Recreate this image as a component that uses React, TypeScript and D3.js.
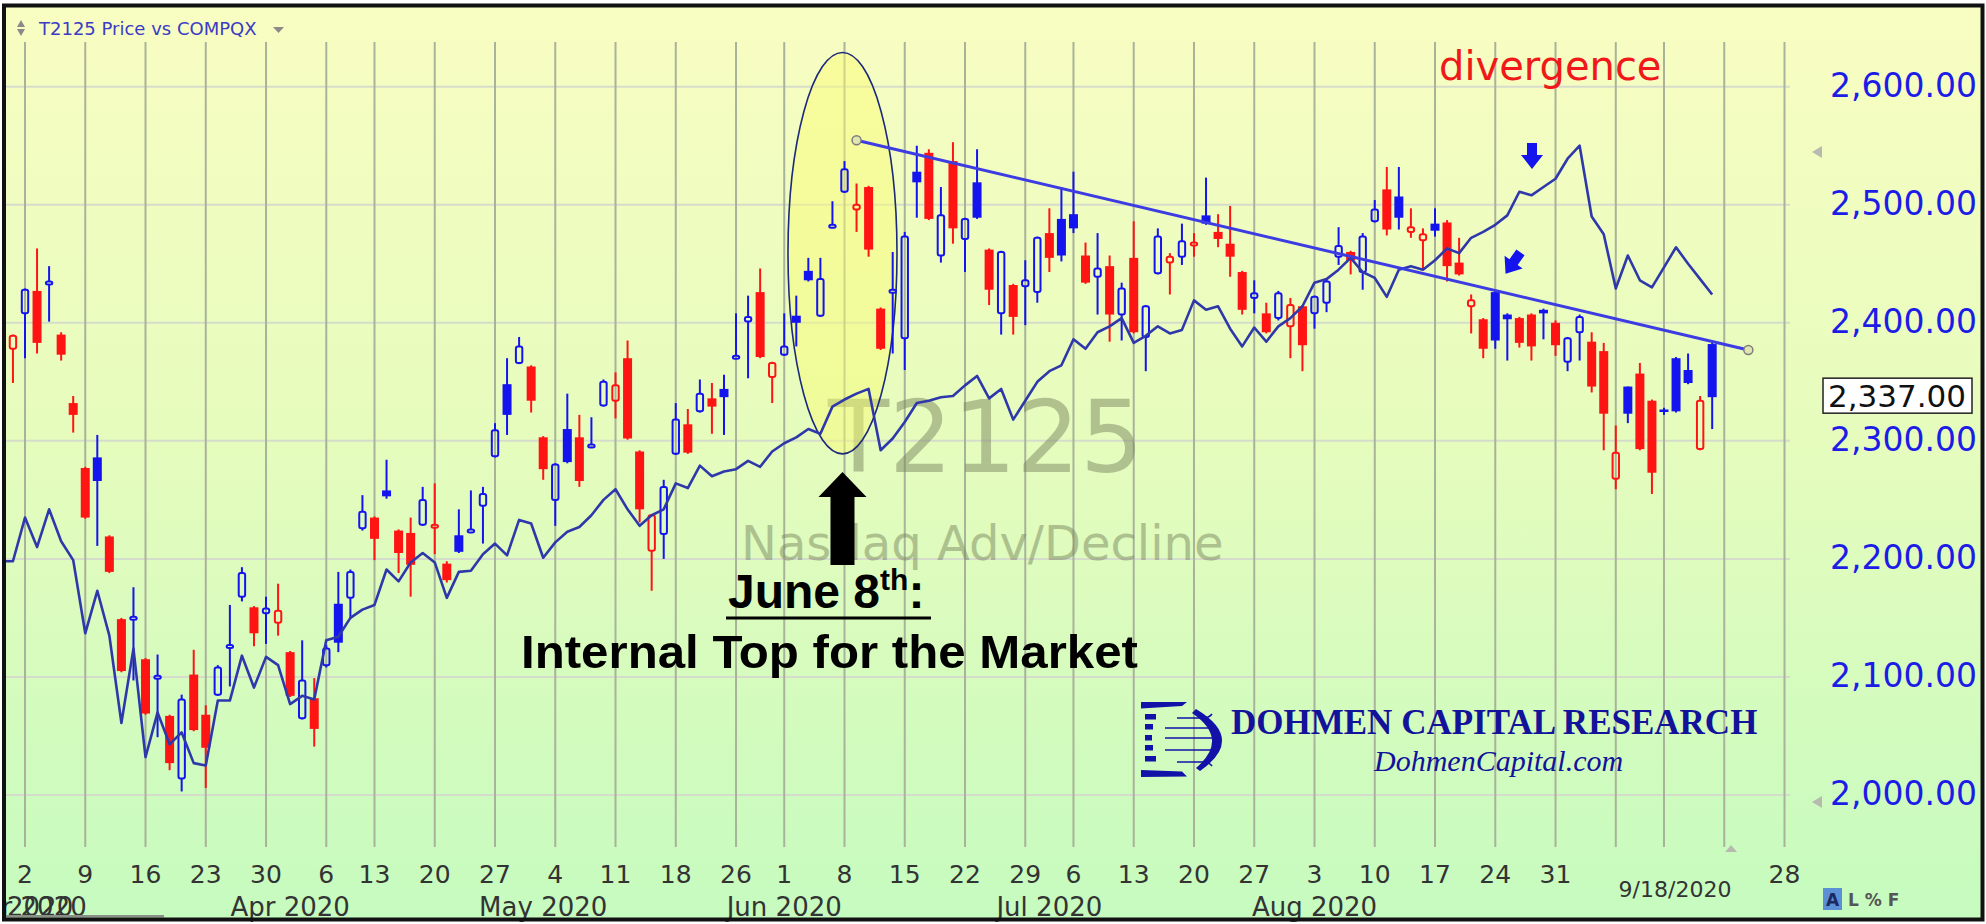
import React, { useEffect } from 'react';
import * as d3 from 'd3';

const W = 1986;
const H = 924;

// ---- calendar ----
const HOLIDAYS = ['2020-04-10', '2020-05-25', '2020-07-03', '2020-09-07'];
const CAL_START = '2020-02-27';
const CAL_END = '2020-09-30';
const CANDLE_START = '2020-02-28';
const AD_START = '2020-02-27';
const FIRST_TICK = '2020-03-02';
const LAST_TICK = '2020-09-28';
const hiddenWeekLabels = ['2020-09-08', '2020-09-14', '2020-09-21'];
const hiddenMonthLabels = ['2020-09'];

// ---- T2125 (Nasdaq Composite) daily candles, Feb 28 .. Sep 18 2020 ----
const opens = [
  2378, 2408, 2427, 2434, 2390, 2332, 2277, 2286, 2219, 2149, 2150, 2115, 2100, 2067, 2014, 2102, 2068, 2085, 2126, 2168,
  2159, 2154, 2146, 2121, 2065, 2082, 2110, 2162, 2167, 2226, 2235, 2258, 2224, 2222, 2229, 2228, 2196, 2220, 2224, 2245,
  2287, 2348, 2366, 2363, 2303, 2250, 2310, 2303, 2296, 2330, 2334, 2370, 2291, 2207, 2221, 2289, 2314, 2325, 2336, 2344,
  2371, 2401, 2426, 2354, 2373, 2406, 2444, 2406, 2482, 2511, 2496, 2515, 2412, 2427, 2387, 2528, 2544, 2457, 2537, 2471,
  2519, 2462, 2408, 2432, 2431, 2426, 2476, 2488, 2492, 2457, 2439, 2448, 2407, 2455, 2388, 2442, 2451, 2456, 2467, 2491,
  2477, 2467, 2443, 2421, 2408, 2404, 2397, 2414, 2408, 2417, 2456, 2460, 2443, 2486, 2513, 2507, 2477, 2470, 2484, 2485,
  2451, 2414, 2403, 2426, 2407, 2404, 2407, 2411, 2400, 2367, 2392, 2384, 2376, 2268, 2346, 2357, 2334, 2326, 2370, 2360,
  2293, 2382,
];
const highs = [
  2390, 2429, 2463, 2448, 2392, 2338, 2278, 2305, 2220, 2150, 2176, 2116, 2119, 2068, 2085, 2123, 2076, 2110, 2161, 2193,
  2160, 2168, 2179, 2122, 2131, 2099, 2127, 2189, 2191, 2254, 2236, 2284, 2225, 2235, 2261, 2264, 2198, 2242, 2258, 2261,
  2315, 2370, 2388, 2364, 2304, 2281, 2340, 2322, 2320, 2352, 2358, 2385, 2292, 2238, 2267, 2332, 2327, 2352, 2349, 2356,
  2408, 2423, 2446, 2367, 2408, 2423, 2455, 2455, 2503, 2537, 2518, 2516, 2413, 2460, 2477, 2550, 2547, 2515, 2553, 2489,
  2547, 2463, 2461, 2433, 2453, 2473, 2497, 2515, 2528, 2468, 2476, 2457, 2434, 2486, 2415, 2480, 2459, 2484, 2476, 2523,
  2492, 2499, 2444, 2436, 2417, 2427, 2421, 2415, 2423, 2437, 2481, 2461, 2476, 2504, 2532, 2532, 2497, 2480, 2497, 2487,
  2472, 2424, 2404, 2427, 2408, 2405, 2408, 2412, 2402, 2388, 2407, 2392, 2383, 2313, 2346, 2366, 2335, 2328, 2371, 2374,
  2338, 2383,
];
const lows = [
  2349, 2370, 2374, 2401, 2368, 2307, 2234, 2211, 2188, 2104, 2097, 2068, 2049, 2021, 2003, 2054, 2006, 2084, 2092, 2164,
  2126, 2128, 2135, 2083, 2064, 2041, 2108, 2121, 2149, 2224, 2199, 2251, 2188, 2168, 2228, 2204, 2180, 2205, 2222, 2213,
  2286, 2305, 2365, 2324, 2267, 2228, 2281, 2261, 2295, 2329, 2319, 2301, 2231, 2173, 2200, 2288, 2289, 2324, 2306, 2305,
  2370, 2353, 2370, 2332, 2372, 2380, 2435, 2405, 2481, 2510, 2477, 2456, 2377, 2374, 2360, 2489, 2487, 2451, 2467, 2443,
  2488, 2415, 2390, 2390, 2398, 2417, 2443, 2452, 2476, 2433, 2407, 2384, 2385, 2391, 2359, 2441, 2424, 2449, 2456, 2483,
  2464, 2439, 2407, 2408, 2391, 2402, 2370, 2359, 2395, 2409, 2449, 2441, 2428, 2485, 2474, 2479, 2472, 2445, 2473, 2435,
  2440, 2391, 2370, 2378, 2368, 2379, 2368, 2386, 2372, 2359, 2368, 2341, 2292, 2259, 2315, 2292, 2255, 2322, 2324, 2348,
  2292, 2310,
];
const closes = [
  2389, 2428, 2383, 2435, 2373, 2322, 2235, 2266, 2189, 2105, 2151, 2069, 2101, 2027, 2081, 2055, 2040, 2108, 2127, 2188,
  2137, 2158, 2156, 2084, 2097, 2056, 2124, 2129, 2189, 2240, 2217, 2253, 2205, 2195, 2250, 2229, 2182, 2206, 2225, 2255,
  2309, 2322, 2380, 2334, 2276, 2280, 2282, 2266, 2297, 2350, 2347, 2302, 2242, 2237, 2261, 2318, 2290, 2340, 2329, 2337,
  2372, 2405, 2371, 2366, 2380, 2400, 2436, 2437, 2483, 2530, 2500, 2462, 2378, 2428, 2473, 2519, 2488, 2491, 2480, 2488,
  2489, 2428, 2460, 2405, 2436, 2472, 2455, 2457, 2480, 2434, 2446, 2407, 2429, 2392, 2414, 2473, 2456, 2469, 2468, 2484,
  2471, 2456, 2411, 2425, 2392, 2425, 2415, 2381, 2422, 2435, 2465, 2453, 2473, 2496, 2479, 2489, 2481, 2475, 2478, 2448,
  2441, 2419, 2378, 2385, 2403, 2383, 2380, 2408, 2381, 2387, 2405, 2346, 2323, 2290, 2323, 2293, 2273, 2325, 2325, 2349,
  2334, 2337,
];
// b = close above previous close (blue), r = below (red)
const candleColors = [
  'r', 'b', 'r', 'b', 'r', 'r', 'r', 'b', 'r', 'r', 'b', 'r', 'b', 'r', 'b', 'r', 'r', 'b', 'b', 'b',
  'r', 'b', 'r', 'r', 'b', 'r', 'b', 'b', 'b', 'b', 'r', 'b', 'r', 'r', 'b', 'r', 'r', 'b', 'b', 'b',
  'b', 'b', 'b', 'r', 'r', 'b', 'b', 'r', 'b', 'b', 'r', 'r', 'r', 'r', 'b', 'b', 'r', 'b', 'r', 'b',
  'b', 'b', 'r', 'r', 'b', 'b', 'b', 'b', 'b', 'b', 'r', 'r', 'r', 'b', 'b', 'b', 'r', 'b', 'r', 'b',
  'b', 'r', 'b', 'r', 'b', 'b', 'r', 'b', 'b', 'r', 'b', 'r', 'b', 'r', 'b', 'b', 'r', 'b', 'r', 'b',
  'r', 'r', 'r', 'b', 'r', 'b', 'r', 'r', 'b', 'b', 'b', 'r', 'b', 'b', 'r', 'b', 'r', 'r', 'b', 'r',
  'r', 'r', 'r', 'b', 'b', 'r', 'r', 'b', 'r', 'b', 'b', 'r', 'r', 'r', 'b', 'r', 'r', 'b', 'b', 'b',
  'r', 'b',
];

// ---- Nasdaq Advance/Decline line (overlay, expressed on the price axis), Feb 27 .. Sep 18 ----
const adLine = [
  2198, 2198, 2235, 2210, 2242, 2215, 2199, 2137, 2173, 2135, 2061, 2124, 2032, 2070, 2043, 2053, 2027, 2025, 2080, 2080,
  2118, 2091, 2117, 2110, 2077, 2084, 2081, 2131, 2134, 2150, 2157, 2161, 2191, 2181, 2197, 2205, 2197, 2167, 2189, 2190,
  2204, 2213, 2203, 2233, 2230, 2201, 2214, 2223, 2227, 2237, 2250, 2259, 2242, 2228, 2237, 2242, 2264, 2260, 2279, 2270,
  2274, 2276, 2283, 2278, 2291, 2298, 2303, 2310, 2306, 2329, 2335, 2340, 2344, 2292, 2302, 2316, 2332, 2334, 2337, 2338,
  2347, 2355, 2336, 2344, 2318, 2334, 2350, 2359, 2364, 2386, 2378, 2392, 2397, 2404, 2383, 2389, 2397, 2391, 2394, 2419,
  2411, 2414, 2395, 2380, 2396, 2384, 2397, 2404, 2414, 2434, 2437, 2445, 2455, 2443, 2438, 2422, 2445, 2448, 2445, 2453,
  2463, 2459, 2472, 2477, 2483, 2491, 2511, 2508, 2515, 2522, 2539, 2550, 2490, 2475, 2429, 2457, 2436, 2430, 2447, 2464,
  2450, 2437, 2424,
];

const priceTicks = [2000, 2100, 2200, 2300, 2400, 2500, 2600];
const priceDomain = [2000, 2600];
const lastPrice = 2337;
const trendStart = { date: '2020-06-09', value: 2554.6 };
const trendEnd = { date: '2020-09-23', value: 2377 };
const highlightDate = '2020-06-08';
const highlightRange = [2289, 2629];
const chartDate = '9/18/2020';

const BLUE = '#1414ee';
const RED = '#ff1414';
const AXIS_BLUE = '#1c1ce6';
const LOGO_BLUE = '#1212a8';
const UI_FONT = "'DejaVu Sans', Verdana, sans-serif";
const ANNOT_FONT = "'Liberation Sans', Arial, sans-serif";
const SERIF = "'Liberation Serif', 'Times New Roman', serif";

export default function App() {
  useEffect(() => {
    document.body.style.margin = '0';
    document.body.style.overflow = 'hidden';
  }, []);

  const parse = d3.timeParse('%Y-%m-%d');
  const fmt = d3.timeFormat('%Y-%m-%d');
  const fmtMonth = d3.timeFormat('%Y-%m');
  const days = d3
    .timeDay.range(parse(CAL_START) as Date, d3.timeDay.offset(parse(CAL_END) as Date, 1))
    .filter((d) => d.getDay() !== 0 && d.getDay() !== 6 && !HOLIDAYS.includes(fmt(d)));
  const idx = (s: string) => days.findIndex((d) => fmt(d) === s);

  const x = d3.scaleLinear().domain([idx(FIRST_TICK), idx(LAST_TICK)]).range([25, 1784.5]);
  const y = d3.scaleLinear().domain(priceDomain).range([795, 86.7]);

  const c0 = idx(CANDLE_START);
  const a0 = idx(AD_START);
  const candles = opens.map((o, i) => ({
    i: c0 + i, o, h: highs[i], l: lows[i], c: closes[i], col: candleColors[i] === 'b' ? BLUE : RED,
  }));
  const lastIdx = c0 + opens.length - 1;

  const firstTick = parse(FIRST_TICK) as Date;
  const lastTick = parse(LAST_TICK) as Date;
  const weekTicks = days
    .map((d, i) => ({ d, i }))
    .filter(({ d, i }) => i > 0 && d.getDay() < days[i - 1].getDay() && d >= firstTick && d <= lastTick);
  const monthLabels = days
    .map((d, i) => ({ d, i }))
    .filter(({ d, i }) => i >= c0 && i <= lastIdx && (i === c0 || d.getMonth() !== days[i - 1].getMonth()))
    .filter(({ d }) => !hiddenMonthLabels.includes(fmtMonth(d)));

  const adPath = d3
    .line<number>()
    .x((_, k) => x(a0 + k))
    .y((v) => y(v))(adLine) as string;

  const hx = x(idx(highlightDate)) - 2;
  const eTop = y(highlightRange[1]);
  const eBot = y(highlightRange[0]);

  const tx1 = x(idx(trendStart.date));
  const ty1 = y(trendStart.value);
  const tx2 = x(idx(trendEnd.date));
  const ty2 = y(trendEnd.value);

  const arrowX = hx;
  const blueArrow = 'M-5,-13 L5,-13 L5,-1 L11,-1 L0,13 L-11,-1 L-5,-1 Z';

  const logoBars = [
    { y: 714, w: 11 },
    { y: 724, w: 8 },
    { y: 735, w: 7 },
    { y: 745, w: 8 },
    { y: 756, w: 11 },
  ];
  const logoFeathers = [
    'M1177,718 L1203,718 Q1209,718 1212,714',
    'M1165,728 L1212,728',
    'M1165,738 L1215,738',
    'M1165,750 L1212,750',
    'M1177,762 L1203,762 Q1209,762 1212,766',
  ];

  return (
    <svg
      width={W}
      height={H}
      viewBox={`0 0 ${W} ${H}`}
      style={{ position: 'fixed', left: 0, top: 0, display: 'block' }}
    >
      <defs>
        <linearGradient id="bg" x1="0" y1="0" x2="0" y2="1">
          <stop offset="0" stopColor="#f9fdc2" />
          <stop offset="0.5" stopColor="#e4fcbd" />
          <stop offset="1" stopColor="#c6fbbf" />
        </linearGradient>
        <clipPath id="plot">
          <rect x={6} y={40} width={1786} height={810} />
        </clipPath>
      </defs>

      <rect x={0} y={0} width={W} height={H} fill="#ffffff" />
      <rect x={4} y={5.5} width={1978.5} height={914} fill="url(#bg)" />

      {/* title */}
      <g fill="#8a8a8a">
        <path d="M17,27 L25,27 L21,20 Z" />
        <path d="M17,29 L25,29 L21,36 Z" />
        <path d="M273,27 L284,27 L278.5,33 Z" />
      </g>
      <text x={39} y={35} fontFamily={UI_FONT} fontSize={18} fill="#3b3bc4">
        T2125 Price vs COMPQX
      </text>

      {/* horizontal grid */}
      <g stroke="#d6dccb" strokeWidth={2}>
        {priceTicks.map((p) => (
          <line key={p} x1={6} x2={1790} y1={y(p)} y2={y(p)} />
        ))}
      </g>
      {/* vertical grid */}
      <g stroke="#a9b29a" strokeWidth={2}>
        {weekTicks.map(({ i }) => (
          <line key={i} x1={x(i)} x2={x(i)} y1={42} y2={847} />
        ))}
      </g>

      {/* watermark */}
      <g fontFamily={UI_FONT} fill="#7b8860" opacity={0.5}>
        <text x={828} y={472} fontSize={100}>T2125</text>
        <text x={741} y={560} fontSize={48}>Nasdaq Adv/Decline</text>
      </g>

      {/* highlight ellipse */}
      <ellipse
        cx={hx}
        cy={(eTop + eBot) / 2}
        rx={54.5}
        ry={(eBot - eTop) / 2}
        fill="rgba(250,250,110,0.45)"
        stroke="#1b2a7a"
        strokeWidth={1.6}
      />

      <g clipPath="url(#plot)">
        {/* candles */}
        {candles.map((k) => {
          const cx = x(k.i);
          const hollow = k.c > k.o;
          const top = y(Math.max(k.o, k.c));
          const bot = y(Math.min(k.o, k.c));
          const bh = Math.max(bot - top, hollow ? 3 : 2.5);
          if (hollow) {
            return (
              <g key={k.i} stroke={k.col} strokeWidth={2} fill="none">
                <line x1={cx} x2={cx} y1={y(k.h)} y2={top} />
                <line x1={cx} x2={cx} y1={top + bh} y2={y(k.l)} />
                <rect x={cx - 3.2} y={top} width={6.4} height={bh} rx={2} />
              </g>
            );
          }
          return (
            <g key={k.i}>
              <line x1={cx} x2={cx} y1={y(k.h)} y2={y(k.l)} stroke={k.col} strokeWidth={2} />
              <rect x={cx - 4.5} y={top - (bh - (bot - top)) / 2} width={9} height={bh} fill={k.col} />
            </g>
          );
        })}

        {/* A/D line */}
        <path d={adPath} fill="none" stroke="#2e38aa" strokeWidth={2.6} strokeLinejoin="round" />

        {/* trend line */}
        <line x1={tx1} y1={ty1} x2={tx2} y2={ty2} stroke="#3c3ce2" strokeWidth={3} />
        <circle cx={tx1} cy={ty1} r={4.5} fill="#dfe6b0" stroke="#7d7d7d" strokeWidth={1.5} />
        <circle cx={tx2} cy={ty2} r={4.5} fill="#dfe6b0" stroke="#7d7d7d" strokeWidth={1.5} />
      </g>

      {/* divergence annotation */}
      <text x={1439} y={80} fontFamily={UI_FONT} fontSize={40} fill="#f01818">divergence</text>
      <path d={blueArrow} transform="translate(1532,156)" fill={BLUE} />
      <path d={blueArrow} transform="translate(1513,263) rotate(35)" fill={BLUE} />

      {/* June 8 annotation */}
      <path
        d={`M${arrowX},472 L${arrowX + 24},497 L${arrowX + 12},497 L${arrowX + 12},565 L${arrowX - 12},565 L${arrowX - 12},497 L${arrowX - 24},497 Z`}
        fill="#000"
      />
      <text x={728} y={608} fontFamily={ANNOT_FONT} fontWeight="bold" fontSize={48} fill="#000">
        June 8
        <tspan fontSize={30} dy={-18}>th</tspan>
        <tspan fontSize={48} dy={18}>:</tspan>
      </text>
      <line x1={726} x2={931} y1={618} y2={618} stroke="#000" strokeWidth={3} />
      <text
        x={521}
        y={668}
        fontFamily={ANNOT_FONT}
        fontWeight="bold"
        fontSize={47}
        fill="#000"
        textLength={617}
        lengthAdjust="spacingAndGlyphs"
      >
        Internal Top for the Market
      </text>

      {/* logo */}
      <g fill={LOGO_BLUE}>
        <path d="M1141,702 L1187,702 L1182,706 L1141,708.5 Z" />
        <path d="M1141,770 L1182,771.5 L1187,776.5 L1141,777 Z" />
        {logoBars.map((b) => (
          <rect key={b.y} x={1145} y={b.y} width={b.w} height={5.5} />
        ))}
        <path d="M1196,709 Q1246,739 1200,771 L1196,768 Q1230,739 1192,713 Z" />
      </g>
      <g stroke={LOGO_BLUE} strokeWidth={1.6} fill="none">
        {logoFeathers.map((d) => (
          <path key={d} d={d} />
        ))}
      </g>
      <text x={1231} y={734} fontFamily={SERIF} fontWeight="bold" fontSize={35} fill="#12129a">
        DOHMEN CAPITAL RESEARCH
      </text>
      <text x={1374} y={771} fontFamily={SERIF} fontStyle="italic" fontSize={30} fill="#12129a">
        DohmenCapital.com
      </text>

      {/* price axis */}
      <g fontFamily={UI_FONT} fontSize={33} fill={AXIS_BLUE} textAnchor="end">
        {priceTicks.map((p) => (
          <text key={p} x={1977} y={y(p) + 10}>
            {d3.format(',.2f')(p)}
          </text>
        ))}
      </g>
      <rect x={1823} y={y(lastPrice) - 19} width={149} height={35} fill="#ffffff" stroke="#222" strokeWidth={1.5} />
      <text
        x={1897}
        y={y(lastPrice) + 10}
        fontFamily={UI_FONT}
        fontSize={31}
        fill="#111"
        textAnchor="middle"
      >
        {d3.format(',.2f')(lastPrice)}
      </text>

      {/* small markers */}
      <g fill="#b6bab0">
        <path d="M1812,152 L1822,146 L1822,158 Z" />
        <path d="M1812,802 L1822,796 L1822,808 Z" />
        <path d="M1725,852 L1737,852 L1731,845 Z" />
      </g>

      {/* date axis */}
      <g fontFamily={UI_FONT} fontSize={25} fill="#333" textAnchor="middle">
        {weekTicks
          .filter(({ d }) => !hiddenWeekLabels.includes(fmt(d)))
          .map(({ d, i }) => (
            <text key={i} x={x(i)} y={883}>
              {d.getDate()}
            </text>
          ))}
      </g>
      <g fontFamily={UI_FONT} fontSize={26} fill="#333" textAnchor="middle">
        {monthLabels.map(({ d, i }) => (
          <text key={i} x={x(i)} y={916}>
            {d3.timeFormat('%b %Y')(d)}
          </text>
        ))}
      </g>
      <text x={1675} y={897} fontFamily={UI_FONT} fontSize={22} fill="#333" textAnchor="middle">
        {chartDate}
      </text>

      {/* chart controls */}
      <rect x={1823} y={888} width={19} height={22} fill="#5b8fd6" />
      <text x={1832.5} y={906} fontFamily={UI_FONT} fontSize={17} fontWeight="bold" fill="#1a2a60" textAnchor="middle">
        A
      </text>
      <text x={1848} y={906} fontFamily={UI_FONT} fontSize={17} fontWeight="bold" fill="#555">
        L % F
      </text>
      <rect x={4} y={915} width={160} height={2.5} fill="#8a8f88" />

      {/* frame */}
      <rect x={4} y={5.5} width={1978.5} height={914} fill="none" stroke="#111" strokeWidth={4} />
    </svg>
  );
}
